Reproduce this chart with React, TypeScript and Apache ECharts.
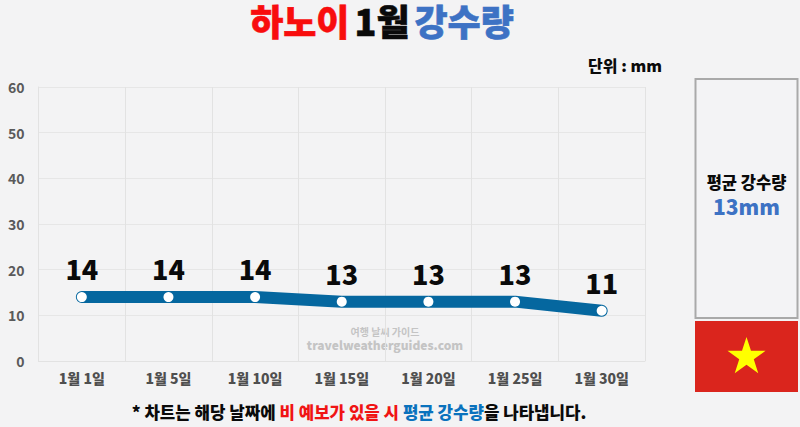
import React, { useEffect, useRef } from "react";
import * as echarts from "echarts";

const categories = ["1월 1일", "1월 5일", "1월 10일", "1월 15일", "1월 20일", "1월 25일", "1월 30일"];
const rainfall = [14, 14, 14, 13, 13, 13, 11];
const yTicks = { min: 0, max: 60, interval: 10 };

const FONT = '"Noto Sans CJK KR", "Noto Sans", sans-serif';

function starPoints(cx: number, cy: number, r: number) {
  const pts: number[][] = [];
  for (let i = 0; i < 10; i++) {
    const radius = i % 2 === 0 ? r : r * 0.382;
    const a = -Math.PI / 2 + (i * Math.PI) / 5;
    pts.push([cx + radius * Math.cos(a), cy + radius * Math.sin(a)]);
  }
  return pts;
}

function titleStyle(color: string) {
  return { color, fontSize: 36, lineHeight: 36, fontWeight: 900, fontFamily: FONT, textBorderColor: color, textBorderWidth: 0.6 };
}

export default function App() {
  const ref = useRef<HTMLDivElement>(null);
  useEffect(() => {
    const chart = echarts.init(ref.current!, null, { renderer: "svg" });
    chart.setOption({
      animation: false,
      backgroundColor: "#f3f3f4",
      title: {
        left: 382,
        top: 2,
        padding: 0,
        textAlign: "center",
        text: "{a|하노이} {b|1월} {c|강수량}",
        textStyle: {
          rich: {
            a: titleStyle("#f80d0d"),
            b: titleStyle("#0a0a0a"),
            c: titleStyle("#3d72c4"),
          },
        },
      },
      grid: { left: 38.5, right: 155, top: 87, bottom: 66 },
      xAxis: {
        type: "category",
        data: categories,
        boundaryGap: true,
        axisLine: { show: true, lineStyle: { color: "#e2e2e2" } },
        axisTick: { show: false },
        splitLine: { show: true, lineStyle: { color: "#e2e2e2", width: 1 } },
        axisLabel: { color: "#4f4f4f", fontSize: 14, fontWeight: 900, fontFamily: FONT, margin: 10, interval: 0 },
      },
      yAxis: {
        type: "value",
        min: yTicks.min,
        max: yTicks.max,
        interval: yTicks.interval,
        axisLine: { show: true, lineStyle: { color: "#e2e2e2" } },
        axisTick: { show: false },
        splitLine: { show: true, lineStyle: { color: "#e6e6e6", width: 1 } },
        axisLabel: { color: "#5a5a5a", fontSize: 14, fontWeight: 600, fontFamily: FONT, margin: 14 },
      },
      series: [
        {
          type: "line",
          data: rainfall,
          lineStyle: { color: "#05679f", width: 12, cap: "round", join: "round" },
          symbol: "circle",
          symbolSize: 10,
          itemStyle: { color: "#ffffff", borderWidth: 0 },
          label: {
            show: true,
            position: "top",
            distance: 10,
            color: "#0a0a0a",
            fontSize: 27,
            fontWeight: 900,
            fontFamily: FONT,
          },
          z: 3,
        },
      ],
      graphic: [
        { type: "text", x: 662, y: 65, style: { text: "단위 : mm", fill: "#0a0a0a", font: `900 16px ${FONT}`, align: "right", verticalAlign: "middle" } },
        { type: "rect", shape: { x: 695.5, y: 79, width: 102, height: 239 }, style: { fill: "#f3f3f5", stroke: "#a9a9a9", lineWidth: 2 } },
        { type: "text", x: 746.5, y: 182, style: { text: "평균 강수량", fill: "#0a0a0a", font: `900 16.5px ${FONT}`, align: "center", verticalAlign: "middle" } },
        { type: "text", x: 746.5, y: 206, style: { text: "13mm", fill: "#3d72c4", font: `900 21px ${FONT}`, align: "center", verticalAlign: "middle" } },
        { type: "rect", shape: { x: 695, y: 321, width: 103, height: 71 }, style: { fill: "#da251d" } },
        { type: "polygon", shape: { points: starPoints(746.5, 357, 20) }, style: { fill: "#ffff00" } },
        { type: "text", x: 385, y: 331, style: { text: "여행 날씨 가이드", fill: "#c4c4c4", font: `700 10px ${FONT}`, align: "center", verticalAlign: "middle" } },
        { type: "text", x: 385, y: 344.5, style: { text: "travelweatherguides.com", fill: "#c4c4c4", font: `900 12px ${FONT}`, align: "center", verticalAlign: "middle" } },
        {
          type: "text",
          x: 359,
          y: 412,
          style: {
            text: "{k|* 차트는 해당 날짜에 }{r|비 예보가 있을 시 }{b|평균 강수량}{k|을 나타냅니다.}",
            align: "center",
            verticalAlign: "middle",
            rich: {
              k: { fill: "#0a0a0a", font: `900 16.8px ${FONT}` },
              r: { fill: "#f01414", font: `900 16.8px ${FONT}` },
              b: { fill: "#0a72bd", font: `900 16.8px ${FONT}` },
            },
          },
        },
      ],
    });
    return () => chart.dispose();
  }, []);
  return <div ref={ref} style={{ position: "fixed", left: 0, top: 0, width: 800, height: 427 }} />;
}
